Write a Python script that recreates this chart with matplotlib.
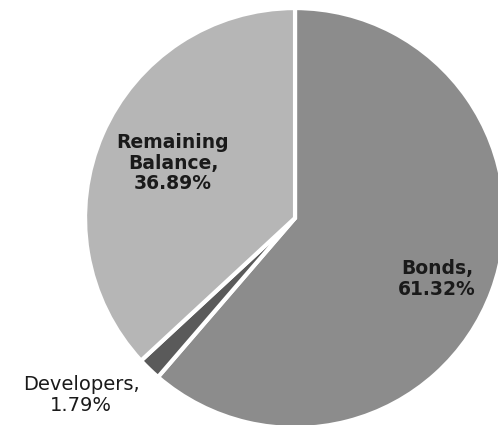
import matplotlib
matplotlib.use("Agg")
import matplotlib.pyplot as plt

categories = ["Bonds", "Developers", "Remaining Balance"]
values = [61.32, 1.79, 36.89]
label_texts = ["Bonds,\n61.32%", "Developers,\n1.79%", "Remaining\nBalance,\n36.89%"]
colors = ["#8c8c8c", "#5a5a5a", "#b6b6b6"]

fig = plt.figure(figsize=(4.98, 4.25), dpi=100)
ax = fig.add_axes([0.1707, -0.007, 0.8434, 0.988])
ax.pie(values, colors=colors, startangle=90, counterclock=False, radius=1.0,
       wedgeprops=dict(edgecolor="white", linewidth=3))
ax.set_xlim(-1, 1)
ax.set_ylim(-1, 1)
ax.set_aspect("equal")
ax.axis("off")

pos = [(0.676, -0.290), (-1.019, -0.843), (-0.581, 0.262)]
weights = ["bold", "medium", "bold"]
sizes = [13.5, 14, 13.5]
for txt, (x, y), w, s in zip(label_texts, pos, weights, sizes):
    ax.text(x, y, txt, ha="center", va="center", fontsize=s, fontweight=w,
            color="#1a1a1a", linespacing=1.1, family="DejaVu Sans", clip_on=False)

fig.savefig("out.png", dpi=100)
